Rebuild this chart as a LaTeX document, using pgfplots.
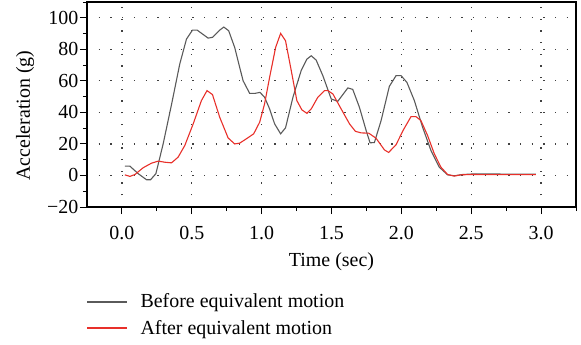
\documentclass[border=0pt]{standalone}
\usepackage{fontspec}
\setmainfont{Liberation Serif}
\usepackage{pgfplots}
\pgfplotsset{compat=1.18}
\definecolor{cblack}{HTML}{5A5A5A}
\definecolor{cred}{HTML}{E8302A}
\begin{document}
\begin{tikzpicture}
\path[use as bounding box] (0,0) rectangle (581bp,-345bp);
\begin{axis}[
  at={(87bp,-2bp)}, anchor=north west,
  width=489bp, height=205bp, scale only axis,
  xmin=-0.25, xmax=3.25, ymin=-20, ymax=110,
  xtick={0,0.5,1,1.5,2,2.5,3},
  xticklabels={0.0,0.5,1.0,1.5,2.0,2.5,3.0},
  minor xtick={0.25,0.75,1.25,1.75,2.25,2.75,3.25},
  ytick={-20,0,20,40,60,80,100},
  yticklabels={−20,0,20,40,60,80,100},
  minor ytick={-10,10,30,50,70,90,110},
  tick align=outside,
  xtick pos=left, ytick pos=left,
  major tick length=7bp, minor tick length=4bp,
  every tick/.style={black, line width=0.9bp},
  axis line style={black, line width=1.1bp},
  grid=major,
  major grid style={black!75, line width=1.3bp, dash pattern=on 1.3bp off 10.4bp},
  tick label style={font=\fontsize{20}{24}\selectfont},
  yticklabel style={inner sep=1.5bp},
  xticklabel style={inner sep=3bp, yshift=-9bp},
  label style={font=\fontsize{20}{24}\selectfont},
  xlabel={Time (sec)},
  ylabel={Acceleration (g)},
  xlabel style={at={(axis description cs:0.5,-0.266)}, anchor=center},
  ylabel style={at={(axis description cs:-0.1268,0.446)}, anchor=center},
  legend style={at={(axis description cs:0,-0.412)}, anchor=north west,
    draw=none, fill=none, inner sep=0pt, row sep=7bp,
    font=\fontsize{20}{24}\selectfont},
  legend cell align=left,
]
\addlegendimage{legend image code/.code={\fill[cblack] (0bp,-0.55bp) rectangle (39bp,0.55bp);}}
\addlegendentry{\hspace{12bp}Before equivalent motion}
\addlegendimage{legend image code/.code={\fill[cred] (0bp,-0.55bp) rectangle (39bp,0.55bp);}}
\addlegendentry{\hspace{12bp}After equivalent motion}
\addplot[color=cblack, line width=1.1bp, forget plot] coordinates {
(0.021,5.9)(0.057,5.9)(0.117,1.1)(0.176,-2.7)(0.205,-2.7)(0.243,1.1)(0.295,20)(0.355,45)(0.414,70.7)(0.462,86.5)(0.505,92.2)(0.538,92.2)(0.617,87.1)(0.648,87.6)(0.700,92.2)(0.729,94.1)(0.764,91.8)(0.807,81.2)(0.867,60.1)(0.914,52.1)(0.955,52.1)(0.988,52.7)(1.021,49.6)(1.057,42.2)(1.093,32.7)(1.136,26.4)(1.171,30.2)(1.224,49.6)(1.283,66.5)(1.324,73.8)(1.355,75.9)(1.390,73.2)(1.438,63.3)(1.498,48.5)(1.545,47)(1.617,55.5)(1.652,54.6)(1.700,43.2)(1.748,28.5)(1.776,20.7)(1.807,20.9)(1.855,34.8)(1.914,56.5)(1.962,63.3)(1.998,63.3)(2.040,59)(2.093,47.5)(2.152,30.6)(2.212,15.8)(2.271,5.3)(2.331,0.4)(2.379,-0.2)(2.438,0.6)(2.5,0.9)(2.7,0.9)(2.962,0.8)
};
\addplot[color=cred, line width=1.1bp, forget plot] coordinates {
(0.021,0.4)(0.057,-0.6)(0.093,0.6)(0.152,4.9)(0.212,7.8)(0.260,9.1)(0.307,8.4)(0.355,8.0)(0.402,11.6)(0.450,19)(0.510,32.7)(0.569,47.5)(0.609,53.8)(0.648,51.3)(0.700,36.9)(0.760,23.8)(0.807,20)(0.843,20.5)(0.890,23.2)(0.943,26.4)(0.986,33.8)(1.021,45.4)(1.057,62.2)(1.100,81.2)(1.136,90.1)(1.171,85.4)(1.212,66.5)(1.252,47.5)(1.288,41.6)(1.324,39.4)(1.355,42.2)(1.402,49.6)(1.450,53.8)(1.474,53.8)(1.510,51.7)(1.569,42.2)(1.629,32.7)(1.671,28)(1.712,27)(1.767,26.8)(1.819,23.6)(1.879,16.2)(1.909,14.6)(1.962,19.5)(2.015,29)(2.069,37.3)(2.105,37.3)(2.140,34.8)(2.188,25.3)(2.236,13.7)(2.283,5.3)(2.331,0.6)(2.379,-0.4)(2.426,0.4)(2.5,0.6)(2.7,0.5)(2.962,0.5)
};
\end{axis}
\end{tikzpicture}
\end{document}
